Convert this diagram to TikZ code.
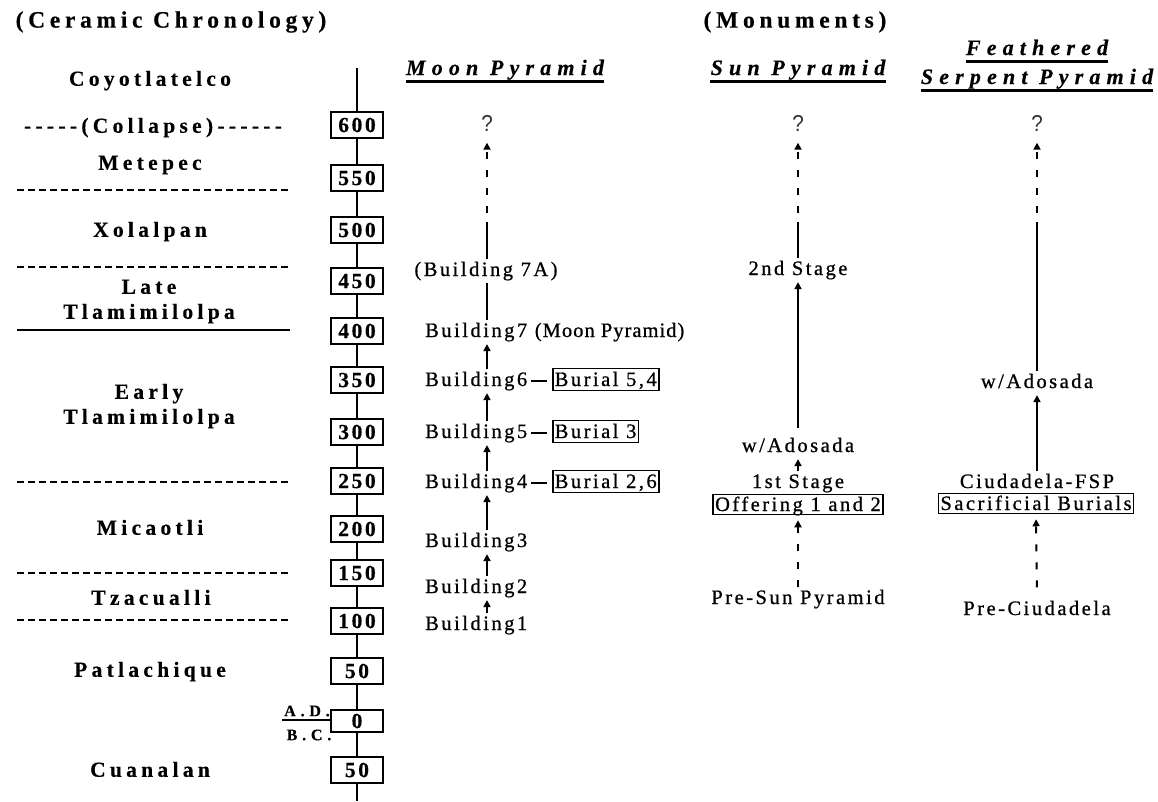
\documentclass[tikz,border=0pt]{standalone}
\usepackage{fontspec}
\usetikzlibrary{arrows.meta}
\newfontfamily\fntB{Liberation Serif}[LetterSpace=20,FakeBold=0.4]
\newfontfamily\fntN{Liberation Serif}[LetterSpace=12,FakeBold=0.4]
\newfontfamily\fntR{Liberation Serif}[LetterSpace=12.2,FakeBold=0.8]
\newfontfamily\fntRt{Liberation Serif}[LetterSpace=5,FakeBold=0.8]
\newfontfamily\fntBI{Liberation Serif}[LetterSpace=28,FakeBold=0.4]
\newfontfamily\fntAD{Liberation Serif}[LetterSpace=30,FakeBold=0.4]
\newfontfamily\fntQ{Liberation Sans}[FakeStretch=0.9]
\tikzset{
  reg/.style={font=\fntR\fontsize{20.5}{24}\selectfont, inner xsep=1pt, inner ysep=2.5pt, text height=14pt, text depth=4.4pt},
  per/.style={font=\fntB\bfseries\fontsize{21.5}{25}\selectfont, inner sep=0pt, text height=14pt, text depth=4.5pt},
  yr/.style={draw, line width=2pt, fill=white, minimum width=52pt, minimum height=26pt, inner sep=0pt, font=\fntN\bfseries\fontsize{21.5}{25}\selectfont},
  hd/.style={font=\fntB\bfseries\fontsize{23.5}{28}\selectfont, inner sep=0pt},
  mon/.style={font=\fntBI\bfseries\itshape\fontsize{22}{26}\selectfont, inner sep=0pt},
  adbc/.style={font=\fntAD\bfseries\fontsize{16}{19}\selectfont, inner sep=0pt},
  bx/.style={reg, draw, line width=1.5pt, inner xsep=2pt, inner ysep=4.5pt, text height=13.2pt, text depth=0pt},
  obx/.style={bx, inner ysep=3.5pt},
  arr/.style={line width=2pt, -{Triangle[length=7pt,width=7pt]}},
  darr/.style={arr, dash pattern=on 7pt off 11pt},
  sline/.style={line width=2pt},
  dl/.style={line width=2.7pt, dash pattern=on 6.5pt off 4.5pt},
  ul/.style={line width=2.5pt},
  qm/.style={font=\fntQ\fontsize{23}{27}\selectfont, inner sep=0pt, text depth=0pt, text=black!80},
}
\begin{document}
\begin{tikzpicture}[x=1pt,y=-1pt]
\useasboundingbox (0,0) rectangle (1158,801);
% headers
\node[hd] (hcc) at (171,22) {(Ceramic Chronology)};
\node[hd] (hmo) at (795,22) {(Monuments)};
% period names
\node[per] (pcoy) at (150,81) {Coyotlatelco};
\node[per] (pcol) at (153,128) {-{}-{}-{}-{}-(Collapse)-{}-{}-{}-{}-{}-};
\node[per] (pmet) at (150,165) {Metepec};
\node[per] (pxol) at (150,232) {Xolalpan};
\node[per] (plat) at (149,289) {Late};
\node[per] (pltl) at (149,314) {Tlamimilolpa};
\node[per] (pear) at (149,394) {Early};
\node[per] (petl) at (149,419) {Tlamimilolpa};
\node[per] (pmic) at (150,530) {Micaotli};
\node[per] (ptza) at (151,600) {Tzacualli};
\node[per] (ppat) at (150,672) {Patlachique};
\node[per] (pcua) at (150,772) {Cuanalan};
% period separators
\draw[dl] (17,190) -- (290,190);
\draw[dl] (17,267) -- (290,267);
\draw[sline] (17,330) -- (290,330);
\draw[dl] (17,482) -- (290,482);
\draw[dl] (17,573) -- (290,573);
\draw[dl] (17,620) -- (290,620);
% timeline
\coordinate (ttop) at (357,68);
\coordinate (tbot) at (357,801);
\foreach \lab/\nm/\yy in {600/t600/125,550/t550/178,500/t500/230,450/t450/281,400/t400/331,350/t350/380,300/t300/432,250/t250/481,200/t200/529,150/t150/573,100/t100/621,50/t50/671,50/tb50/770}
  \node[yr] (\nm) at (357,\yy) {\lab};
\node[yr, minimum height=22pt] (t0) at (357,721) {0};
\draw[sline] (ttop) -- (t600) -- (t550) -- (t500) -- (t450) -- (t400) -- (t350) -- (t300) -- (t250) -- (t200) -- (t150) -- (t100) -- (t50) -- (t0) -- (tb50) -- (tbot);
\coordinate (adl) at (282,720);
\draw[sline] (adl) -- (adl -| t0.west);
\node[adbc] (ad) at (307,711) {A.D.};
\node[adbc] (bc) at (309,735) {B.C.};
% Moon Pyramid
\node[mon, anchor=base] (hmp) at (505,75) {Moon Pyramid};
\draw[ul] ([yshift=-6.5pt]hmp.base west) -- ([yshift=-6.5pt]hmp.base east);
\node[qm, anchor=base] (mq) at (487,131.5) {?};
\node[reg, anchor=base] (b7a) at (486,276) {(Building 7A)};
\node[reg, anchor=base west] (b7) at (424,337) {Building7 {\fntRt(Moon Pyramid)}};
\node[reg, anchor=base west] (b6) at (424,386) {Building6};
\node[reg, anchor=base west] (b5) at (424,438) {Building5};
\node[reg, anchor=base west] (b4) at (424,488) {Building4};
\node[reg, anchor=base west] (b3) at (424,547) {Building3};
\node[reg, anchor=base west] (b2) at (424,593) {Building2};
\node[reg, anchor=base west] (b1) at (424,630) {Building1};
\coordinate (mx) at (487,0);
\coordinate (mbrk1) at (487,222);
\coordinate (mbrk2) at (487,213);
\draw[sline] (b7a.north -| mx) -- (mbrk1);
\draw[darr, shorten >=11pt] (mbrk2) -- (mq.south);
\draw[sline] (b7.north -| mx) -- (b7a.south -| mx);
\draw[arr] (b6.north -| mx) -- (b7.south -| mx);
\draw[arr] (b5.north -| mx) -- (b6.south -| mx);
\draw[arr] (b4.north -| mx) -- (b5.south -| mx);
\draw[arr] (b3.north -| mx) -- (b4.south -| mx);
\draw[arr] (b2.north -| mx) -- (b3.south -| mx);
\draw[arr] (b1.north -| mx) -- (b2.south -| mx);
\node[bx, anchor=base west] (bu6) at (552,386) {Burial 5,4};
\node[bx, anchor=base west] (bu5) at (552,438) {Burial 3};
\node[bx, anchor=base west] (bu4) at (552,488) {Burial 2,6};
\draw[sline, shorten <=3pt, shorten >=5pt] (b6.east) -- (b6.east -| bu6.west);
\draw[sline, shorten <=3pt, shorten >=5pt] (b5.east) -- (b5.east -| bu5.west);
\draw[sline, shorten <=3pt, shorten >=5pt] (b4.east) -- (b4.east -| bu4.west);
% Sun Pyramid
\node[mon, anchor=base] (hsp) at (798,75) {Sun Pyramid};
\draw[ul] ([yshift=-6.5pt]hsp.base west) -- ([yshift=-6.5pt]hsp.base east);
\node[qm, anchor=base] (sq) at (798,131.5) {?};
\node[reg, anchor=base] (s2) at (798,275) {2nd Stage};
\node[reg, anchor=base] (sw) at (798,452) {w/Adosada};
\node[reg, anchor=base] (s1) at (798,488) {1st Stage};
\node[obx, anchor=base] (sbox) at (798,511) {Offering 1 and 2};
\node[reg, anchor=base] (spre) at (798,604) {Pre-Sun Pyramid};
\coordinate (sbrk1) at (798,222);
\coordinate (sbrk2) at (798,213);
\draw[sline] (s2.north) -- (sbrk1);
\draw[darr, shorten >=11pt] (sbrk2) -- (sq.south);
\draw[arr, shorten <=7pt] (sw.north) -- (s2.south);
\draw[arr] (s1.north) -- (sw.south);
\draw[darr, shorten >=5pt] (spre.north) -- (sbox.south);
% Feathered Serpent Pyramid
\node[mon, anchor=base] (hf1) at (1037,55) {Feathered};
\draw[ul] ([yshift=-6.5pt]hf1.base west) -- ([yshift=-6.5pt]hf1.base east);
\node[mon, anchor=base] (hf2) at (1037,84) {Serpent Pyramid};
\draw[ul] ([yshift=-6.5pt]hf2.base west) -- ([yshift=-6.5pt]hf2.base east);
\node[qm, anchor=base] (fq) at (1037,131.5) {?};
\node[reg, anchor=base] (fw) at (1037,388) {w/Adosada};
\node[reg, anchor=base] (fc) at (1037,488) {Ciudadela-FSP};
\node[obx, anchor=base] (fbox) at (1036,510) {Sacrificial Burials};
\node[reg, anchor=base] (fpre) at (1037,615) {Pre-Ciudadela};
\coordinate (fbrk1) at (1037,222);
\coordinate (fbrk2) at (1037,213);
\draw[sline] (fw.north) -- (fbrk1);
\draw[darr, shorten >=11pt] (fbrk2) -- (fq.south);
\draw[arr] (fc.north) -- (fw.south);
\draw[darr, shorten <=11pt, shorten >=5pt] (fpre.north) -- (fbox.south);
\end{tikzpicture}
\end{document}
